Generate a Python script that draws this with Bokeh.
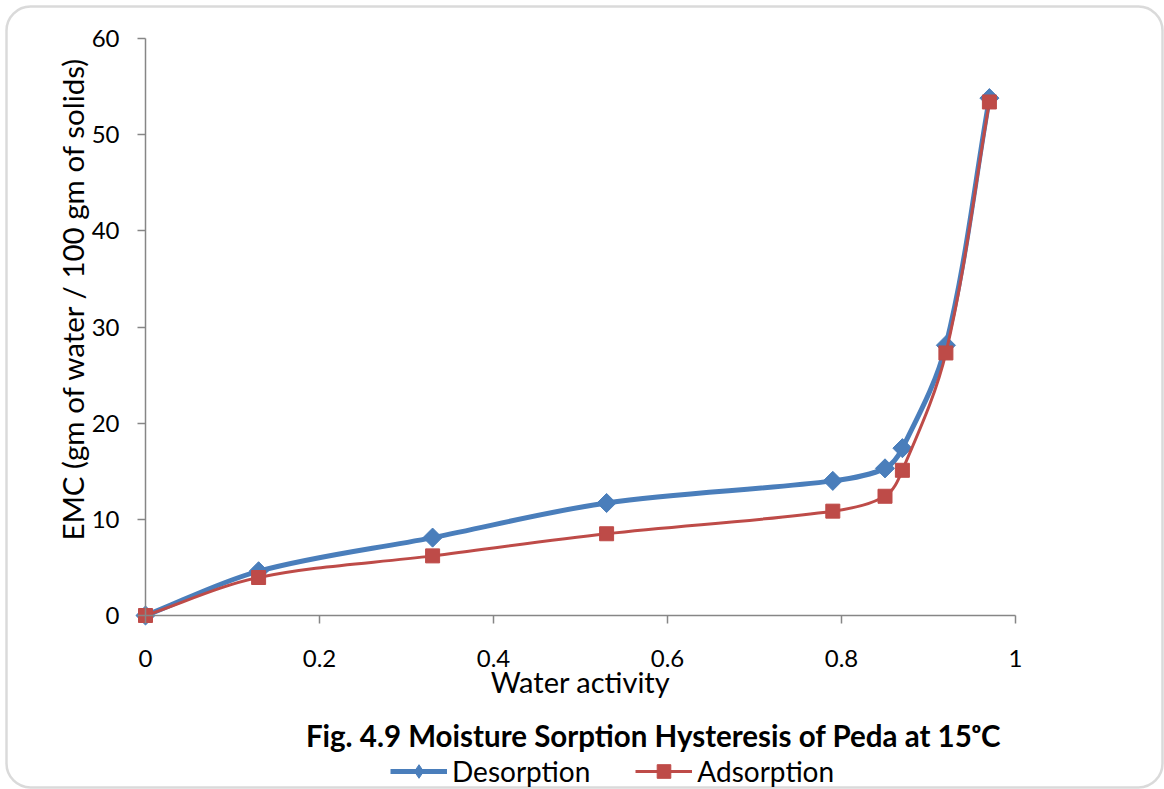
import numpy as np
from bokeh.plotting import figure
from bokeh.models import Range1d, FixedTicker, Label, Legend, LegendItem, BoxAnnotation
from bokeh.embed import file_html
from bokeh.resources import INLINE

# ---- data ----
water_activity = [0, 0.13, 0.33, 0.53, 0.79, 0.85, 0.87, 0.92, 0.97]
desorption = [0, 4.6, 8.1, 11.7, 14.0, 15.3, 17.4, 28.1, 53.8]
adsorption = [0, 3.95, 6.2, 8.5, 10.85, 12.4, 15.1, 27.3, 53.4]
x_ticks = [0, 0.2, 0.4, 0.6, 0.8, 1.0]
x_tick_labels = ["0", "0.2", "0.4", "0.6", "0.8", "1"]
y_ticks = [0, 10, 20, 30, 40, 50, 60]
title_text = "Fig. 4.9 Moisture Sorption Hysteresis of Peda at 15\u1d52C"
x_label = "Water activity"
y_label = "EMC (gm of water / 100 gm of solids)"
series_names = ["Desorption", "Adsorption"]

BLUE = "#4A7EBB"
RED = "#BE4B48"
AXIS = "#868686"
FONT = "Lato"

# ---- layout (canvas px); the frame covers the whole canvas ----
W, H = 1164, 789
X0PX, X1PX = 145, 1015     # x data 0 and 1
Y0PX, Y60PX = 615, 38      # y data 0 and 60
sx = (X1PX - X0PX) / 1.0
sy = (Y0PX - Y60PX) / 60.0
x_start, x_end = -X0PX / sx, (W - X0PX) / sx
y_start, y_end = -(H - Y0PX) / sy, 60 + Y60PX / sy


def cy(y_canvas):
    """canvas y (from top) -> screen units used by annotations (from frame bottom)."""
    return H - y_canvas


def smooth(xs, ys, k=1 / 3):
    """Bezier control points (Excel-like smoothed line) computed in screen space."""
    P = np.column_stack([np.asarray(xs, float) * sx, np.asarray(ys, float) * sy])
    n = len(P)
    c1, c2 = [], []
    for i in range(n - 1):
        p0 = P[i - 1] if i > 0 else P[i]
        p1, p2 = P[i], P[i + 1]
        p3 = P[i + 2] if i + 2 < n else P[i + 1]
        d = np.linalg.norm(p2 - p1)
        t1 = (p2 - p0) / np.linalg.norm(p2 - p0)
        t2 = (p3 - p1) / np.linalg.norm(p3 - p1)
        c1.append(p1 + t1 * d * k)
        c2.append(p2 - t2 * d * k)
    c1, c2 = np.array(c1), np.array(c2)
    return dict(x0=P[:-1, 0] / sx, y0=P[:-1, 1] / sy,
                x1=P[1:, 0] / sx, y1=P[1:, 1] / sy,
                cx0=c1[:, 0] / sx, cy0=c1[:, 1] / sy,
                cx1=c2[:, 0] / sx, cy1=c2[:, 1] / sy)


p = figure(width=W, height=H, x_range=Range1d(x_start, x_end), y_range=Range1d(y_start, y_end),
           output_backend="svg", toolbar_location=None, min_border=0)
p.title.visible = False
p.outline_line_color = None
p.xgrid.visible = False
p.ygrid.visible = False
p.background_fill_color = "white"
p.border_fill_color = "white"

for ax in (p.xaxis, p.yaxis):
    ax.axis_line_color = AXIS
    ax.axis_line_width = 1.5
    ax.major_tick_line_color = AXIS
    ax.major_tick_line_width = 1.5
    ax.minor_tick_line_color = None
    ax.major_tick_in = 0
    ax.major_tick_out = 8
    ax.major_label_text_font = FONT
    ax.major_label_text_font_size = "24px"
    ax.major_label_text_color = "black"
    ax.axis_label_text_font = FONT
    ax.axis_label_text_font_size = "29px"
    ax.axis_label_text_font_style = "normal"
    ax.axis_label_text_color = "black"

p.xaxis.fixed_location = 0
p.yaxis.fixed_location = 0
p.xaxis.bounds = (0, 1)
p.yaxis.bounds = (0, 60)
p.xaxis.ticker = FixedTicker(ticks=x_ticks)
p.xaxis.major_label_overrides = {t: l for t, l in zip(x_ticks, x_tick_labels)}
p.yaxis.ticker = FixedTicker(ticks=y_ticks)
p.xaxis.axis_label = x_label
p.xaxis.major_label_standoff = 26
p.xaxis.axis_label_standoff = -6
p.yaxis.major_label_standoff = 18

# y-axis title placed like the reference (centred a little above the axis middle)
p.add_layout(Label(x=72, y=cy(298), x_units="screen", y_units="screen", text=y_label,
                   angle=np.pi / 2, text_font=FONT, text_font_size="29.5px",
                   text_align="center", text_baseline="middle", text_color="black"))

# ---- border (rounded rectangle round the whole chart) ----
p.add_layout(BoxAnnotation(left=6, right=1162, top=cy(6), bottom=cy(787),
                           left_units="screen", right_units="screen",
                           top_units="screen", bottom_units="screen",
                           fill_color=None, fill_alpha=0, line_color=AXIS, line_width=2.5,
                           border_radius=24, level="underlay"))

# ---- series ----
bd = smooth(water_activity, desorption)
blue_line = p.bezier(x0=bd["x0"], y0=bd["y0"], x1=bd["x1"], y1=bd["y1"],
                     cx0=bd["cx0"], cy0=bd["cy0"], cx1=bd["cx1"], cy1=bd["cy1"],
                     line_color=BLUE, line_width=5)
blue_leg = p.scatter(water_activity, desorption, marker="diamond", size=16,
                     fill_color=BLUE, line_color=BLUE)
p.scatter(water_activity, desorption, marker="square", angle=np.pi / 4, size=13.5,
          fill_color=BLUE, line_color=BLUE)

ad = smooth(water_activity, adsorption)
red_line = p.bezier(x0=ad["x0"], y0=ad["y0"], x1=ad["x1"], y1=ad["y1"],
                    cx0=ad["cx0"], cy0=ad["cy0"], cx1=ad["cx1"], cy1=ad["cy1"],
                    line_color=RED, line_width=3)
red_pts = p.scatter(water_activity, adsorption, marker="square", size=14,
                    fill_color=RED, line_color=RED)

legend = Legend(items=[LegendItem(label=series_names[0], renderers=[blue_line, blue_leg]),
                       LegendItem(label=series_names[1], renderers=[red_line, red_pts])],
                orientation="horizontal", location=(390, cy(788)),
                glyph_width=57, glyph_height=34, label_height=34, label_standoff=5, spacing=45,
                padding=0, margin=0, border_line_color=None, background_fill_alpha=0,
                label_text_font=FONT, label_text_font_size="28px", label_text_color="black")
p.add_layout(legend, "center")

p.add_layout(Label(x=653, y=cy(735), x_units="screen", y_units="screen", text=title_text,
                   text_font=FONT, text_font_size="29.5px", text_font_style="bold",
                   text_align="center", text_baseline="middle", text_color="black"))

open("out.html", "w").write(file_html(p, INLINE))
